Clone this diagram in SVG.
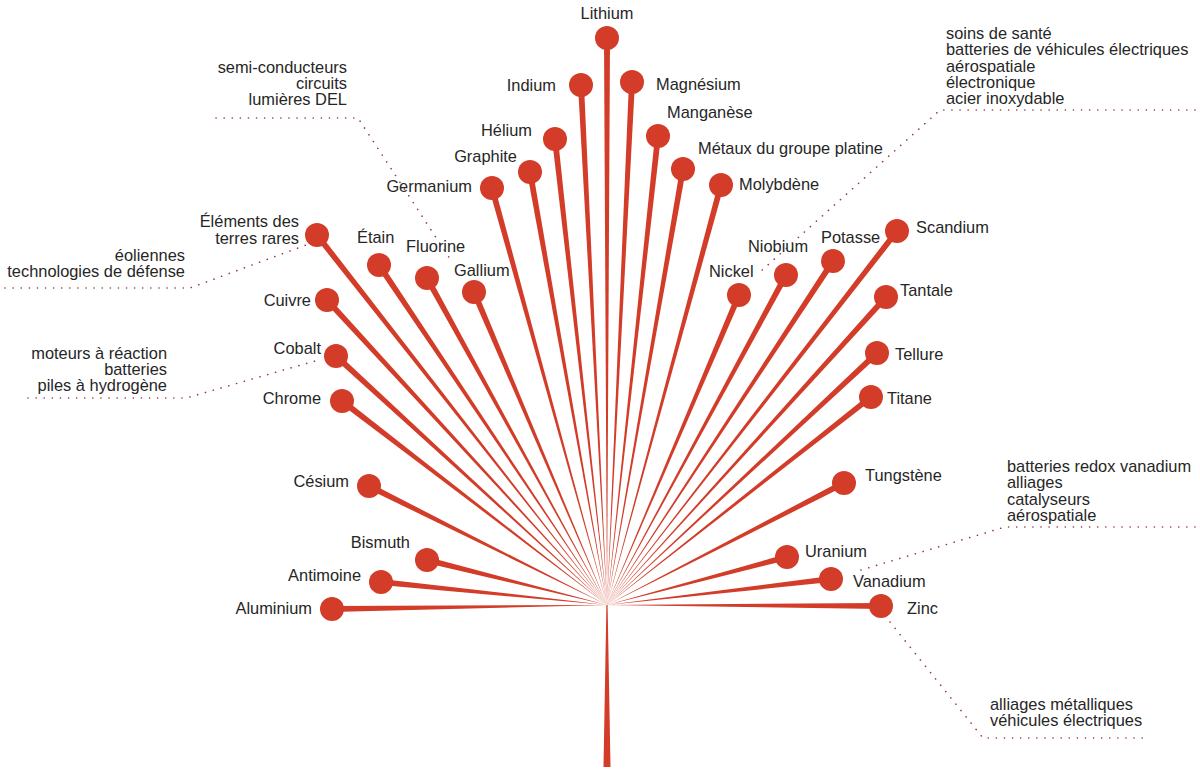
<svg xmlns="http://www.w3.org/2000/svg" width="1200" height="773" viewBox="0 0 1200 773">
<style>
  .bg{fill:#ffffff}
  .ray{fill:#d23c28}
  .dot{fill:#d23c28}
  .lead{fill:none;stroke:#9a3648;stroke-width:1.6;stroke-linecap:round;stroke-dasharray:0.1 8}
  text{font-family:"Liberation Sans",Arial,sans-serif;font-size:16.4px;fill:#262626}
  .e{text-anchor:end}
  .m{text-anchor:middle}
</style>
<rect class="bg" x="0" y="0" width="1200" height="773"/>
<g id="connectors">
  <polygon class="ray" points="606.4,605 607.6,605 610.5,767 603.5,767"/>
  <polygon class="ray" points="607,605 610,38 604,38"/>
  <polygon class="ray" points="607,605 584,84.85 578,85.15"/>
  <polygon class="ray" points="607,605 635,82.1 629,81.9"/>
  <polygon class="ray" points="607,605 557.98,138.67 552.02,139.33"/>
  <polygon class="ray" points="607,605 660.98,136.32 655.02,135.68"/>
  <polygon class="ray" points="607,605 532.95,171.47 527.05,172.53"/>
  <polygon class="ray" points="607,605 685.96,169.52 680.04,168.48"/>
  <polygon class="ray" points="607,605 494.89,187.2 489.11,188.8"/>
  <polygon class="ray" points="607,605 723.9,185.79 718.1,184.21"/>
  <polygon class="ray" points="607,605 319.36,233.15 314.64,236.85"/>
  <polygon class="ray" points="607,605 381.49,263.33 376.51,266.67"/>
  <polygon class="ray" points="607,605 429.63,276.55 424.37,279.45"/>
  <polygon class="ray" points="607,605 476.76,290.83 471.24,293.17"/>
  <polygon class="ray" points="607,605 329.21,297.97 324.79,302.03"/>
  <polygon class="ray" points="607,605 741.76,296.18 736.24,293.82"/>
  <polygon class="ray" points="607,605 788.64,276.43 783.36,273.57"/>
  <polygon class="ray" points="607,605 835.51,262.65 830.49,259.35"/>
  <polygon class="ray" points="607,605 899.37,232.84 894.63,229.16"/>
  <polygon class="ray" points="607,605 888.22,299.01 883.78,294.99"/>
  <polygon class="ray" points="607,605 879.05,355.19 874.95,350.81"/>
  <polygon class="ray" points="607,605 872.86,399.36 869.14,394.64"/>
  <polygon class="ray" points="607,605 338.03,353.79 333.97,358.21"/>
  <polygon class="ray" points="607,605 343.83,398.62 340.17,403.38"/>
  <polygon class="ray" points="607,605 370.34,483.32 367.66,488.68"/>
  <polygon class="ray" points="607,605 845.37,485.67 842.63,480.33"/>
  <polygon class="ray" points="607,605 427.73,557.09 426.27,562.91"/>
  <polygon class="ray" points="607,605 381.3,579.02 380.7,584.98"/>
  <polygon class="ray" points="607,605 331.96,606 332.04,612"/>
  <polygon class="ray" points="607,605 787.77,559.9 786.23,554.1"/>
  <polygon class="ray" points="607,605 831.35,581.98 830.65,576.02"/>
  <polygon class="ray" points="607,605 881,609 881,603"/>
  <path class="lead" d="M216,118 H358 L452,262"/>
  <path class="lead" d="M5,288 H190 L306,245"/>
  <path class="lead" d="M28,398 H186 L322,359"/>
  <path class="lead" d="M1195,110 H940 L760,272"/>
  <path class="lead" d="M1195,527 H1005 L861,570"/>
  <path class="lead" d="M890,622 L983,738 H1143"/>
</g>
<g id="lithium"><circle class="dot" cx="607" cy="38" r="12"/><text class="m" x="607" y="19">Lithium</text></g>
<g id="indium"><circle class="dot" cx="581" cy="85" r="12"/><text class="e" x="556" y="91">Indium</text></g>
<g id="magnesium"><circle class="dot" cx="632" cy="82" r="12"/><text x="656" y="90">Magnésium</text></g>
<g id="helium"><circle class="dot" cx="555" cy="139" r="12"/><text class="e" x="532" y="136">Hélium</text></g>
<g id="manganese"><circle class="dot" cx="658" cy="136" r="12"/><text x="667" y="118">Manganèse</text></g>
<g id="graphite"><circle class="dot" cx="530" cy="172" r="12"/><text class="e" x="517" y="162">Graphite</text></g>
<g id="platine"><circle class="dot" cx="683" cy="169" r="12"/><text x="698" y="154">Métaux du groupe platine</text></g>
<g id="germanium"><circle class="dot" cx="492" cy="188" r="12"/><text class="e" x="472" y="192">Germanium</text></g>
<g id="molybdene"><circle class="dot" cx="721" cy="185" r="12"/><text x="739" y="190">Molybdène</text></g>
<g id="terres-rares"><circle class="dot" cx="317" cy="235" r="12"/><text class="e" x="299" y="227">Éléments des</text><text class="e" x="299" y="244">terres rares</text></g>
<g id="etain"><circle class="dot" cx="379" cy="265" r="12"/><text x="357" y="243">Étain</text></g>
<g id="fluorine"><circle class="dot" cx="427" cy="278" r="12"/><text x="406" y="252">Fluorine</text></g>
<g id="gallium"><circle class="dot" cx="474" cy="292" r="12"/><text x="454" y="276">Gallium</text></g>
<g id="cuivre"><circle class="dot" cx="327" cy="300" r="12"/><text class="e" x="311" y="306">Cuivre</text></g>
<g id="nickel"><circle class="dot" cx="739" cy="295" r="12"/><text x="709" y="277">Nickel</text></g>
<g id="niobium"><circle class="dot" cx="786" cy="275" r="12"/><text x="748" y="252">Niobium</text></g>
<g id="potasse"><circle class="dot" cx="833" cy="261" r="12"/><text x="821" y="243">Potasse</text></g>
<g id="scandium"><circle class="dot" cx="897" cy="231" r="12"/><text x="916" y="233">Scandium</text></g>
<g id="tantale"><circle class="dot" cx="886" cy="297" r="12"/><text x="900" y="296">Tantale</text></g>
<g id="tellure"><circle class="dot" cx="877" cy="353" r="12"/><text x="895" y="360">Tellure</text></g>
<g id="titane"><circle class="dot" cx="871" cy="397" r="12"/><text x="887" y="404">Titane</text></g>
<g id="cobalt"><circle class="dot" cx="336" cy="356" r="12"/><text class="e" x="321" y="354">Cobalt</text></g>
<g id="chrome"><circle class="dot" cx="342" cy="401" r="12"/><text class="e" x="321" y="404">Chrome</text></g>
<g id="cesium"><circle class="dot" cx="369" cy="486" r="12"/><text class="e" x="349" y="487">Césium</text></g>
<g id="tungstene"><circle class="dot" cx="844" cy="483" r="12"/><text x="865" y="481">Tungstène</text></g>
<g id="bismuth"><circle class="dot" cx="427" cy="560" r="12"/><text class="e" x="410" y="548">Bismuth</text></g>
<g id="antimoine"><circle class="dot" cx="381" cy="582" r="12"/><text class="e" x="361" y="581">Antimoine</text></g>
<g id="aluminium"><circle class="dot" cx="332" cy="609" r="12"/><text class="e" x="312" y="614">Aluminium</text></g>
<g id="uranium"><circle class="dot" cx="787" cy="557" r="12"/><text x="805" y="557">Uranium</text></g>
<g id="vanadium"><circle class="dot" cx="831" cy="579" r="12"/><text x="853" y="587">Vanadium</text></g>
<g id="zinc"><circle class="dot" cx="881" cy="606" r="12"/><text x="907" y="614">Zinc</text></g>
<g id="note-gallium"><text class="e" x="347" y="73">semi-conducteurs</text><text class="e" x="347" y="89">circuits</text><text class="e" x="347" y="105">lumières DEL</text></g>
<g id="note-terres-rares"><text class="e" x="185" y="261">éoliennes</text><text class="e" x="185" y="277">technologies de défense</text></g>
<g id="note-cobalt"><text class="e" x="167" y="359">moteurs à réaction</text><text class="e" x="167" y="375">batteries</text><text class="e" x="167" y="391">piles à hydrogène</text></g>
<g id="note-nickel"><text x="946" y="39">soins de santé</text><text x="946" y="55">batteries de véhicules électriques</text><text x="946" y="72">aérospatiale</text><text x="946" y="88">électronique</text><text x="946" y="104">acier inoxydable</text></g>
<g id="note-vanadium"><text x="1007" y="472">batteries redox vanadium</text><text x="1007" y="488">alliages</text><text x="1007" y="505">catalyseurs</text><text x="1007" y="521">aérospatiale</text></g>
<g id="note-zinc"><text x="990" y="710">alliages métalliques</text><text x="990" y="726">véhicules électriques</text></g>
</svg>
